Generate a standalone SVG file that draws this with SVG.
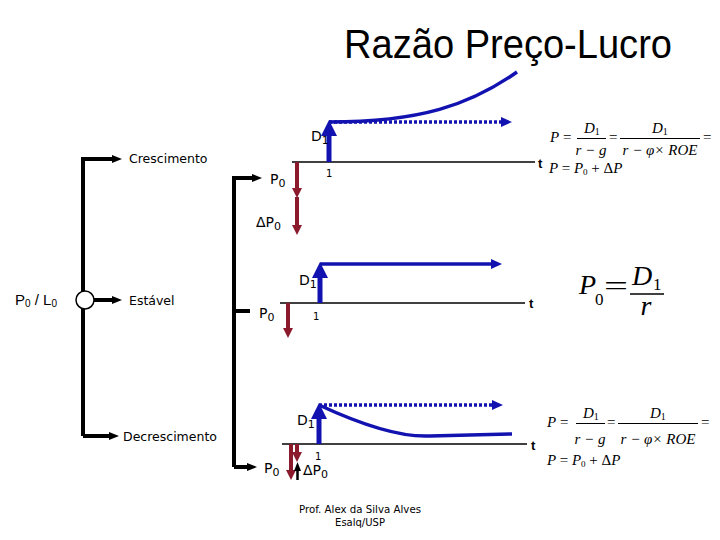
<svg xmlns="http://www.w3.org/2000/svg" width="720" height="540" viewBox="0 0 720 540">
<style>
.lbl{font-family:"DejaVu Sans",Verdana,sans-serif;font-size:12.5px;fill:#000}
.p{font-family:"DejaVu Sans",Verdana,sans-serif;font-size:14px;fill:#000}
.one{font-family:"DejaVu Sans",Verdana,sans-serif;font-size:10px;fill:#000}
.f{font-family:"Liberation Serif","Times New Roman",serif;font-size:15px;fill:#000}
.fi{font-style:italic}
.blk{stroke:#000;stroke-width:4;fill:none}
.blue{stroke:#1212b0;stroke-width:5;fill:none}
.bluel{stroke:#1212b0;stroke-width:3.5;fill:none}
.dot{stroke:#1212b0;stroke-width:3.5;fill:none;stroke-dasharray:3 2}
.red{stroke:#8b1a2d;stroke-width:4;fill:none}
.axis{stroke:#000;stroke-width:1.5;fill:none}
.big{font-family:"Liberation Serif","Times New Roman",serif;fill:#000}
</style>
<defs>
<marker id="ab" markerUnits="userSpaceOnUse" orient="auto" overflow="visible"><path d="M-2,-4 L8,0 L-2,4z" fill="#000"/></marker>
<marker id="abs" markerUnits="userSpaceOnUse" orient="auto" overflow="visible"><path d="M-2,-3.5 L7,0 L-2,3.5z" fill="#000"/></marker>
<marker id="bb" markerUnits="userSpaceOnUse" orient="auto" overflow="visible"><path d="M-4,-8 L12,0 L-4,8z" fill="#1212b0"/></marker>
<marker id="bs" markerUnits="userSpaceOnUse" orient="auto" overflow="visible"><path d="M-2,-5 L9,0 L-2,5z" fill="#1212b0"/></marker>
<marker id="rr" markerUnits="userSpaceOnUse" orient="auto" overflow="visible"><path d="M-2,-5 L8,0 L-2,5z" fill="#8b1a2d"/></marker>
</defs>
<rect width="720" height="540" fill="#fff"/>
<text x="344" y="58" font-family="Liberation Sans,Arial,sans-serif" font-size="40" textLength="328" lengthAdjust="spacingAndGlyphs">Razão Preço-Lucro</text>

<g id="connectors">
<path class="blk" d="M83,436 V159 H114" marker-end="url(#ab)"/>
<path class="blk" d="M83,436 H111" marker-end="url(#ab)"/>
<path class="blk" d="M94,300 H114" marker-end="url(#ab)"/>
<path class="blk" d="M234,467 V178 H254" marker-end="url(#ab)"/>
<path class="blk" d="M234,311 H250"/>
<path class="blk" d="M234,467 H249" marker-end="url(#ab)"/>
</g>

<g id="root">
<circle cx="85" cy="300" r="9" fill="#fff" stroke="#000" stroke-width="1.5"/>
<text x="15" y="305" font-family="Liberation Sans,Arial,sans-serif" font-size="15">P<tspan font-size="10" dy="2">0</tspan><tspan dy="-2"> / L</tspan><tspan font-size="10" dy="2">0</tspan></text>
</g>

<g id="crescimento">
<text class="lbl" x="129" y="163">Crescimento</text>
<line class="axis" x1="292" y1="162" x2="535" y2="162"/>
<text x="538" y="168" font-family="Liberation Sans,Arial,sans-serif" font-size="13" font-weight="bold">t</text>
<path class="dot" d="M329,122 H503" marker-end="url(#bs)"/>
<path class="bluel" d="M329,122 C420,122 470,105 517,72"/>
<path class="blue" d="M329,162 V132" marker-end="url(#bb)"/>
<path class="red" d="M297,162 V190" marker-end="url(#rr)"/>
<path class="red" d="M297,197 V227" marker-end="url(#rr)"/>
<text class="p" x="311" y="141">D<tspan font-size="11" dy="3">1</tspan></text>
<text class="one" x="326" y="177">1</text>
<text class="p" x="270" y="184">P<tspan font-size="11" dy="3">0</tspan></text>
<text class="p" x="256" y="227">ΔP<tspan font-size="11" dy="3">0</tspan></text>
</g>

<g id="formula1">
<text class="f fi" x="550" y="142">P</text>
<text class="f" x="563" y="142">=</text>
<text class="f fi" x="584" y="133">D<tspan font-size="10" dy="2" font-style="normal">1</tspan></text>
<line x1="577" y1="138.5" x2="606" y2="138.5" stroke="#000" stroke-width="1"/>
<text class="f fi" x="591" y="155" text-anchor="middle">r − g</text>
<text class="f" x="609" y="142">=</text>
<text class="f fi" x="652" y="133">D<tspan font-size="10" dy="2" font-style="normal">1</tspan></text>
<line x1="620" y1="138.5" x2="700" y2="138.5" stroke="#000" stroke-width="1"/>
<text class="f fi" x="660" y="155" text-anchor="middle">r − φ× ROE</text>
<text class="f" x="703" y="142">=</text>
<text class="f fi" x="549" y="173">P <tspan font-style="normal">=</tspan> P<tspan font-size="9" dy="2" font-style="normal">0</tspan><tspan dy="-2" font-style="normal"> + Δ</tspan>P</text>
</g>

<g id="estavel">
<text class="lbl" x="129" y="305">Estável</text>
<line class="axis" x1="280" y1="303" x2="525" y2="303"/>
<text x="529" y="308" font-family="Liberation Sans,Arial,sans-serif" font-size="13" font-weight="bold">t</text>
<path class="bluel" d="M320,264 H493" marker-end="url(#bs)"/>
<path class="blue" d="M320,303 V274" marker-end="url(#bb)"/>
<path class="red" d="M288,303 V330" marker-end="url(#rr)"/>
<text class="p" x="299" y="285">D<tspan font-size="11" dy="3">1</tspan></text>
<text class="one" x="313" y="320">1</text>
<text class="p" x="259" y="318">P<tspan font-size="11" dy="3">0</tspan></text>
</g>

<g id="formula2">
<text class="big" x="579" y="294" font-size="28" font-style="italic">P</text>
<text class="big" x="595" y="305" font-size="17">0</text>
<text class="big" x="604" y="295" font-size="28" textLength="24" lengthAdjust="spacingAndGlyphs">=</text>
<text class="big" x="632" y="285" font-size="28" font-style="italic">D</text>
<text class="big" x="653" y="290" font-size="17">1</text>
<line x1="630" y1="294" x2="664" y2="294" stroke="#000" stroke-width="1.5"/>
<text class="big" x="646" y="315" font-size="28" font-style="italic" text-anchor="middle">r</text>
</g>

<g id="decrescimento">
<text class="lbl" x="123" y="441">Decrescimento</text>
<line class="axis" x1="282" y1="444" x2="527" y2="444"/>
<text x="531" y="450" font-family="Liberation Sans,Arial,sans-serif" font-size="13" font-weight="bold">t</text>
<path class="dot" d="M319,405 H494" marker-end="url(#bs)"/>
<path class="bluel" d="M319,405 Q390,438 430,436 L512,434"/>
<path class="blue" d="M319,444 V415" marker-end="url(#bb)"/>
<path class="red" d="M291,444 V472" marker-end="url(#rr)"/>
<path class="red" d="M297,444 V454" marker-end="url(#rr)"/>
<path stroke="#000" stroke-width="2.5" fill="none" d="M297.5,480 V469" marker-end="url(#abs)"/>
<text class="p" x="297" y="425">D<tspan font-size="11" dy="3">1</tspan></text>
<text class="one" x="315" y="460">1</text>
<text class="p" x="264" y="473">P<tspan font-size="11" dy="3">0</tspan></text>
<text class="p" x="303" y="475">ΔP<tspan font-size="11" dy="3">0</tspan></text>
</g>

<g id="formula3">
<text class="f fi" x="547" y="427">P</text>
<text class="f" x="560" y="427">=</text>
<text class="f fi" x="583" y="418">D<tspan font-size="10" dy="2" font-style="normal">1</tspan></text>
<line x1="576" y1="423.5" x2="605" y2="423.5" stroke="#000" stroke-width="1"/>
<text class="f fi" x="590" y="444" text-anchor="middle">r − g</text>
<text class="f" x="607" y="427">=</text>
<text class="f fi" x="650" y="418">D<tspan font-size="10" dy="2" font-style="normal">1</tspan></text>
<line x1="618" y1="423.5" x2="698" y2="423.5" stroke="#000" stroke-width="1"/>
<text class="f fi" x="658" y="444" text-anchor="middle">r − φ× ROE</text>
<text class="f" x="701" y="427">=</text>
<text class="f fi" x="547" y="465">P <tspan font-style="normal">=</tspan> P<tspan font-size="9" dy="2" font-style="normal">0</tspan><tspan dy="-2" font-style="normal"> + Δ</tspan>P</text>
</g>

<g id="credit" font-family="DejaVu Sans,Verdana,sans-serif" font-size="10" text-anchor="middle">
<text x="360" y="513" textLength="122" lengthAdjust="spacingAndGlyphs">Prof. Alex da Silva Alves</text>
<text x="360" y="526">Esalq/USP</text>
</g>
</svg>
